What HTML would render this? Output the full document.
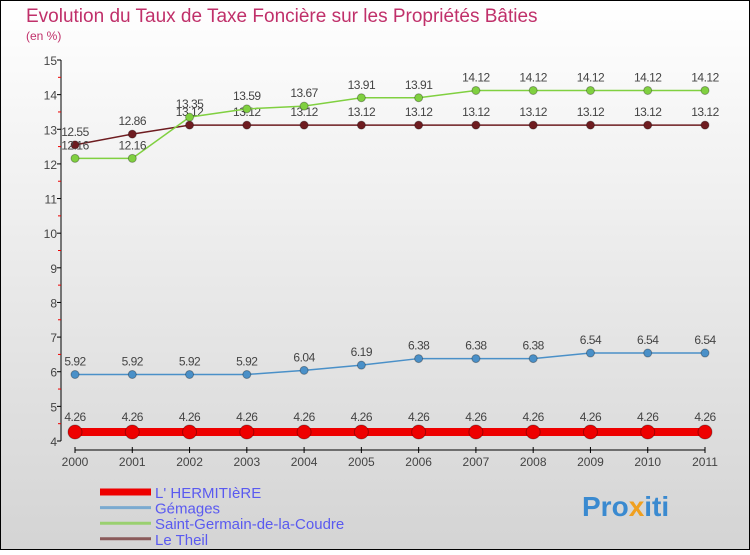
<!DOCTYPE html>
<html><head><meta charset="utf-8"><style>
html,body{margin:0;padding:0}
body{width:750px;height:550px;overflow:hidden;font-family:"Liberation Sans",sans-serif}
</style></head><body>
<svg width="750" height="550" xmlns="http://www.w3.org/2000/svg">
<defs><linearGradient id="bg" x1="0" y1="0" x2="0" y2="1"><stop offset="0" stop-color="#ffffff"/><stop offset="1" stop-color="#d4d4d4"/></linearGradient></defs>
<rect x="0.5" y="0.5" width="749" height="549" fill="url(#bg)" stroke="#000"/>
<text x="26" y="22" font-size="19" fill="#c0306a">Evolution du Taux de Taxe Foncière sur les Propriétés Bâties</text>
<text x="26" y="40" font-size="12" fill="#c0306a">(en %)</text>
<g id="axes"></g>
<g id="series"></g>
<g id="legend"></g>
<text x="582" y="516" font-size="28" font-weight="bold" fill="#3a8ad0">Pro<tspan fill="#f0a020">x</tspan>iti</text>
</svg>
<script>
const years=["2000","2001","2002","2003","2004","2005","2006","2007","2008","2009","2010","2011"];
const yTicks=[4,5,6,7,8,9,10,11,12,13,14,15];
const hermitiere=[4.26,4.26,4.26,4.26,4.26,4.26,4.26,4.26,4.26,4.26,4.26,4.26];
const gemages=[5.92,5.92,5.92,5.92,6.04,6.19,6.38,6.38,6.38,6.54,6.54,6.54];
const saintGermain=[12.16,12.16,13.35,13.59,13.67,13.91,13.91,14.12,14.12,14.12,14.12,14.12];
const leTheil=[12.55,12.86,13.12,13.12,13.12,13.12,13.12,13.12,13.12,13.12,13.12,13.12];
const NS="http://www.w3.org/2000/svg";
const xs=i=>75+i*(630/(years.length-1));
const ys=v=>441-(v-4)*(381/11);
function mk(tag,attrs,parent){const e=document.createElementNS(NS,tag);for(const k in attrs)e.setAttribute(k,attrs[k]);parent.appendChild(e);return e;}
const axes=document.getElementById('axes');
let a=mk('line',{x1:61,y1:60,x2:61,y2:441,stroke:'#000'},axes);


a=mk('line',{x1:75,y1:450,x2:705,y2:450,stroke:'#000'},axes);


yTicks.forEach(v=>{
  mk('line',{x1:57,y1:ys(v),x2:61,y2:ys(v),stroke:'#000'},axes);
  if(v<15)mk('line',{x1:58,y1:ys(v+0.5),x2:61,y2:ys(v+0.5),stroke:'#e00'},axes);
  const t=mk('text',{x:57,y:ys(v)+5,'font-size':12,'text-anchor':'end',fill:'#444'},axes);
  
  
  t.textContent=v;
});
years.forEach((y,i)=>{
  mk('line',{x1:xs(i),y1:447,x2:xs(i),y2:453,stroke:'#000'},axes);
  const t=mk('text',{x:xs(i),y:466,'font-size':12,'text-anchor':'middle',fill:'#444'},axes);
  
  
  t.textContent=y;
});
const sg=document.getElementById('series');
function series(name,data,color,w,r,labelDy){
  const g=mk('g',{},sg);
  
  
  mk('polyline',{points:data.map((v,i)=>xs(i)+','+ys(v)).join(' '),fill:'none',stroke:color,'stroke-width':w},g);
  data.forEach((v,i)=>{
    const c=mk('circle',{cx:xs(i),cy:ys(v),r:r,fill:color,stroke:'rgba(0,0,0,0.3)'},g);
    
    
    const t=mk('text',{x:xs(i),y:ys(v)+labelDy,'font-size':12,'text-anchor':'middle',fill:'#444','letter-spacing':'-0.5'},g);
    
    
    t.textContent=v;
  });
}
series('series-le-theil',leTheil,'#6e1c20',1.5,4,-9);
series('series-saint-germain',saintGermain,'#80d040',1.5,4,-9);
series('series-gemages',gemages,'#4a90c8',1.5,4,-9);
series('series-hermitiere',hermitiere,'#ee0000',8,7,-11);
const lg=document.getElementById('legend');
const legItems=[["L' HERMITIèRE","#ee0000",7],["Gémages","#7aaad0",3],["Saint-Germain-de-la-Coudre","#9ad070",3],["Le Theil","#8a5a5a",3]];
legItems.forEach((it,i)=>{
  const y=492+i*15.6;
  const g=mk('g',{},lg);
  
  
  mk('line',{x1:100,y1:y,x2:151,y2:y,stroke:it[1],'stroke-width':it[2]},g);
  const t=mk('text',{x:155,y:y+6,'font-size':15,fill:'#5a5af0'},g);
  t.textContent=it[0];
});
</script>
</body></html>
